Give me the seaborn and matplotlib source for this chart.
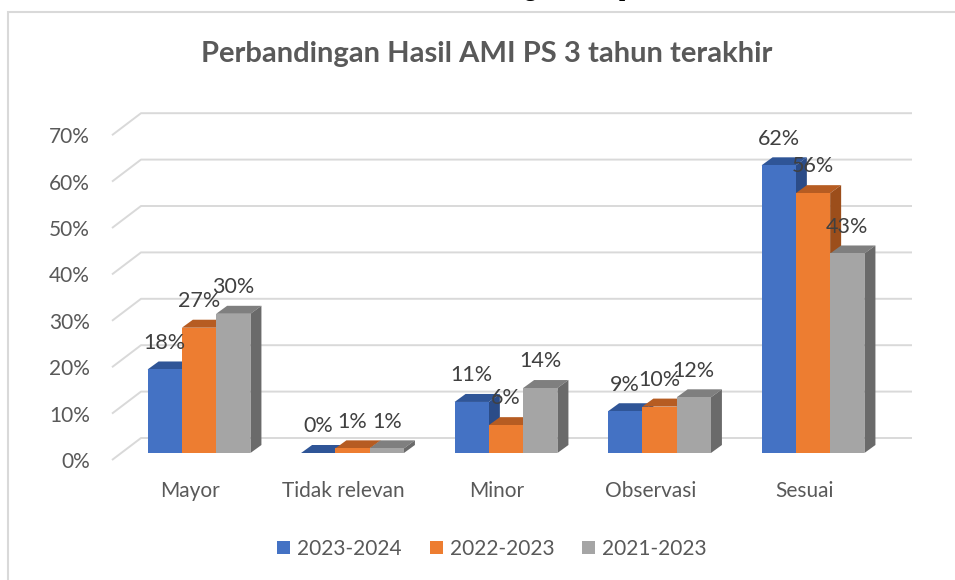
import numpy as np
import pandas as pd
import matplotlib
matplotlib.use("Agg")
import matplotlib.pyplot as plt
from matplotlib.patches import Polygon, Rectangle
import seaborn as sns

# ---- data -------------------------------------------------------------
categories = ["Mayor", "Tidak relevan", "Minor", "Observasi", "Sesuai"]
series_names = ["2023-2024", "2022-2023", "2021-2023"]
values_2023_2024 = [18, 0, 11, 9, 62]
values_2022_2023 = [27, 1, 6, 10, 56]
values_2021_2023 = [30, 1, 14, 12, 43]
y_ticks = [0, 10, 20, 30, 40, 50, 60, 70]
title = "Perbandingan Hasil AMI PS 3 tahun terakhir"

# ---- colours ----------------------------------------------------------
front_colors = ["#4472C4", "#ED7D31", "#A5A5A5"]
top_colors = ["#2F5597", "#B65C22", "#7F7F7F"]
side_colors = ["#2B4C88", "#9C4E1B", "#6A6A6A"]
text_grey = "#595959"
grid_grey = "#D9D9D9"

df = pd.DataFrame({
    "category": categories * len(series_names),
    "series": np.repeat(series_names, len(categories)),
    "value": values_2023_2024 + values_2022_2023 + values_2021_2023,
})

sns.set_theme(style="white")
plt.rcParams["font.family"] = ["Lato", "DejaVu Sans"]

W, H = 955, 580
fig = plt.figure(figsize=(W / 100, H / 100), dpi=100)

# axes box in pixels (left, right, top, bottom)
ax_l, ax_r, ax_t, ax_b = 100, 930, 80, 480
ax = fig.add_axes([ax_l / W, 1 - ax_b / H, (ax_r - ax_l) / W, (ax_b - ax_t) / H])

px_x = 153.5   # pixels per category step
px_y = 4.64    # pixels per percent
x0_px = 199    # pixel column of the first category
base_px = 453  # pixel row of the bar floor

sns.barplot(data=df, x="category", y="value", hue="series",
            palette=front_colors, width=0.67, gap=0, saturation=1,
            linewidth=0, ax=ax)

ax.set_xlim((ax_l - x0_px) / px_x, (ax_r - x0_px) / px_x)
ax.set_ylim(-(ax_b - base_px) / px_y, (base_px - ax_t) / px_y)

# 3D depth of each bar and of the back wall
dx = 11 / px_x
dy = 8 / px_y
floor_front = -7 / px_y
floor_back = 15 / px_y
wall_front_x = (112 - x0_px) / px_x
wall_back_x = (141 - x0_px) / px_x
wall_right_x = (912 - x0_px) / px_x

for v in y_ticks:
    ax.plot([wall_front_x, wall_back_x, wall_right_x],
            [v + floor_front, v + floor_back, v + floor_back],
            color=grid_grey, lw=1.4, zorder=1, solid_capstyle="butt")

# top and side faces for every bar
for h, container in enumerate(ax.containers):
    for rect in container.patches:
        rect.set_zorder(3 + 2 * h)
        rect.set_edgecolor("none")
        x = rect.get_x()
        w = rect.get_width()
        top = rect.get_height()
        ax.add_patch(Polygon([(x, top), (x + w, top), (x + w + dx, top + dy), (x + dx, top + dy)],
                             closed=True, facecolor=top_colors[h], edgecolor="none",
                             zorder=2 + 2 * h))
        ax.add_patch(Polygon([(x + w, 0), (x + w, top), (x + w + dx, top + dy), (x + w + dx, dy)],
                             closed=True, facecolor=side_colors[h], edgecolor="none",
                             zorder=2 + 2 * h))
    labels = ax.bar_label(container, labels=[f"{v:.0f}%" for v in container.datavalues],
                          padding=12, fontsize=15.5, color="#404040")
    for t in labels:
        t.set_zorder(20)

# axes ticks
ax.set_xticks(np.arange(len(categories)) - 9 / px_x, categories)
ax.set_yticks([v + floor_front for v in y_ticks], [f"{v}%" for v in y_ticks])
ax.tick_params(axis="y", length=0, pad=7.2, labelsize=15, labelcolor=text_grey)
ax.tick_params(axis="x", length=0, pad=1, labelsize=15, labelcolor=text_grey)
ax.set_xlabel("")
ax.set_ylabel("")
for s in ax.spines.values():
    s.set_visible(False)
ax.set_facecolor("none")

# legend below the plot
handles, leg_labels = ax.get_legend_handles_labels()
if ax.get_legend() is not None:
    ax.get_legend().remove()
fig.legend(handles, leg_labels, loc="center", bbox_to_anchor=(492 / W, 1 - 549 / H),
           ncol=3, frameon=False, fontsize=15, labelcolor=text_grey,
           handlelength=0.62, handleheight=0.62, handletextpad=0.34,
           columnspacing=1.35)

# title
fig.text(487 / W, 1 - 54 / H, title, ha="center", va="center",
         fontsize=21, fontweight="bold", color=text_grey)

# chart frame
fig.patches.append(Rectangle((7.5 / W, -0.05), 1.2, 1.05 - 12 / H,
                             transform=fig.transFigure, fill=False,
                             edgecolor=grid_grey, lw=1.5))

# heading line of the surrounding page, cut off at the top edge
for ch, xp in (("g", 530), ("p", 625)):
    fig.text(xp / W, 1 + 4 / H, ch, ha="center", va="baseline",
             family=["Liberation Serif"], fontweight="bold", fontsize=16, color="black")

fig.savefig("out.png", dpi=100, facecolor="white")
